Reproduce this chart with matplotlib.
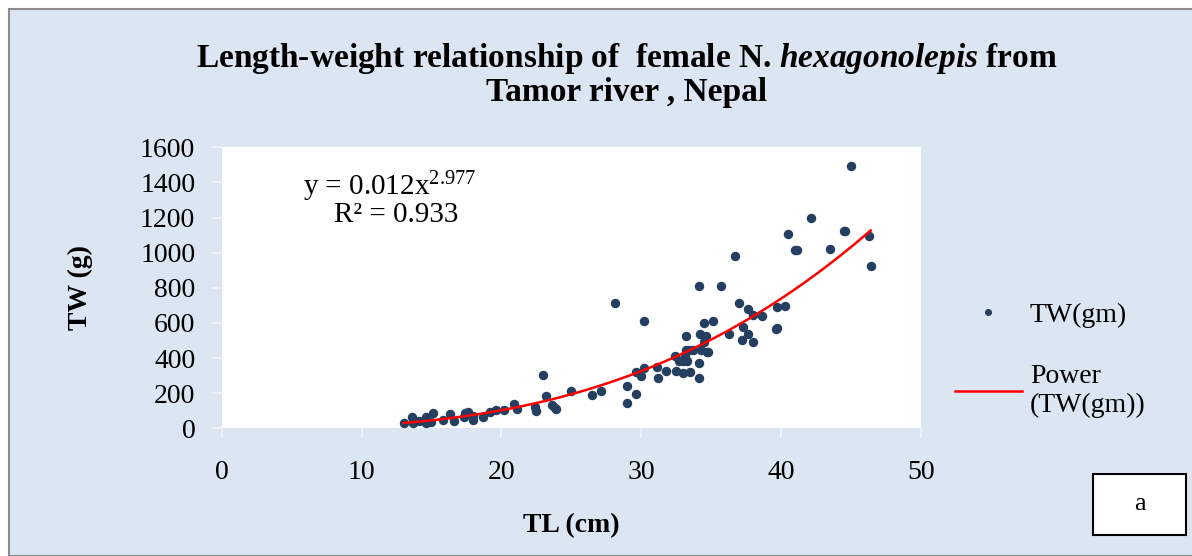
import numpy as np
import matplotlib
matplotlib.use('Agg')
import matplotlib.pyplot as plt
from matplotlib.patches import Rectangle

plt.rcParams['font.family'] = ['Liberation Serif', 'DejaVu Serif']
plt.rcParams['mathtext.fontset'] = 'custom'
plt.rcParams['mathtext.rm'] = 'Liberation Serif'
plt.rcParams['mathtext.it'] = 'Liberation Serif:italic:bold'
plt.rcParams['mathtext.bf'] = 'Liberation Serif:bold'

# total length (cm) and total weight (g)
tl = [13.0, 13.6, 13.7, 14.1, 14.6, 14.6, 15.0, 15.1, 15.8, 16.3,
      16.6, 17.3, 17.4, 17.6, 18.0, 18.0, 18.7, 19.2, 19.6, 20.2,
      20.9, 21.1, 22.4, 22.5, 22.95, 23.2, 23.6, 23.8, 23.9, 25.0,
      26.5, 27.1, 28.1, 29.0, 29.0, 29.6, 29.6, 30.0, 30.2, 30.2,
      31.1, 31.2, 31.8, 32.4, 32.5, 32.7, 33.0, 33.0, 33.1, 33.2,
      33.2, 33.3, 33.4, 33.5, 33.7, 34.1, 34.1, 34.1, 34.2, 34.3,
      34.5, 34.5, 34.6, 34.7, 34.8, 35.1, 35.7, 36.3, 36.7, 37.0,
      37.2, 37.3, 37.6, 37.6, 38.0, 38.0, 38.6, 39.6, 39.7, 39.7,
      40.3, 40.5, 41.0, 41.1, 42.1, 43.5, 44.5, 44.6, 45.0, 46.3,
      46.4]
tw = [28, 63, 28, 43, 66, 28, 38, 89, 47, 81,
      43, 66, 85, 95, 47, 70, 66, 95, 104, 104,
      137, 112, 121, 100, 305, 182, 133, 114, 110, 210,
      188, 210, 713, 242, 146, 195, 320, 299, 343, 609,
      347, 286, 328, 413, 328, 383, 383, 315, 413, 445,
      525, 383, 445, 322, 445, 370, 286, 811, 538, 445,
      489, 601, 525, 432, 436, 609, 811, 538, 979, 713,
      502, 578, 677, 538, 643, 489, 637, 567, 572, 692,
      696, 1104, 1013, 1013, 1195, 1020, 1124, 1124, 1495, 1096,
      923]

x_ticks = [0, 10, 20, 30, 40, 50]
y_ticks = [0, 200, 400, 600, 800, 1000, 1200, 1400, 1600]

bg = '#dce6f2'
fig = plt.figure(figsize=(11.92, 5.56), dpi=100, facecolor='white')
# chart area frame
fig.patches.append(Rectangle((9 / 1192, 0), 1.0, 1 - 9 / 556, transform=fig.transFigure,
                             facecolor=bg, edgecolor='#8c8c8c', linewidth=1.5, zorder=-5))

ax = fig.add_axes([221.7 / 1192, (556 - 428.3) / 556, (921 - 221.7) / 1192, (428.3 - 147.3) / 556])
ax.set_facecolor('white')

# power trendline fitted on the data (like Excel's power trendline)
b, log_a = np.polyfit(np.log(tl), np.log(tw), 1)
xs = np.linspace(min(tl), max(tl), 200)
ys = np.exp(log_a) * xs ** b

ax.plot(tl, tw, 'o', color='#243f60', markersize=5.8, label='TW(gm)', zorder=3)
ax.plot(xs, ys, color='#ff0000', linewidth=1.8, label='Power\n(TW(gm))', zorder=4)

ax.set_xlim(0, 50)
ax.set_ylim(0, 1600)
ax.set_xticks(x_ticks)
ax.set_yticks(y_ticks)
for s in ax.spines.values():
    s.set_visible(False)
ax.tick_params(length=7, width=1.2, color='#f2f5fa', labelsize=20)
ax.tick_params(axis='y', pad=12)
ax.tick_params(axis='x', pad=16)

ax.set_xlabel('TL (cm)', fontsize=20, fontweight='bold', labelpad=20)
ax.set_ylabel('TW (g)', fontsize=20, fontweight='bold', labelpad=34)

ax.text(0.24, 0.86, 'y = 0.012x$^{2.977}$', transform=ax.transAxes,
        ha='center', va='center', fontsize=21)
ax.text(0.25, 0.76, 'R² = 0.933', transform=ax.transAxes,
        ha='center', va='center', fontsize=21)

fig.text(0.526, 0.895, 'Length-weight relationship of  female N. $\\mathit{hexagonolepis}$ from',
         ha='center', va='center', fontsize=24, fontweight='bold')
fig.text(0.526, 0.834, 'Tamor river , Nepal', ha='center', va='center',
         fontsize=24, fontweight='bold')

fig.legend(loc='center left', bbox_to_anchor=(930 / 1192, 1 - 360 / 556), frameon=False,
           fontsize=20, handlelength=2.4, handletextpad=0.3, labelspacing=1.3,
           markerscale=0.7)

fig.patches.append(Rectangle((1093 / 1192, 1 - 535 / 556), 93 / 1192, 61 / 556,
                             transform=fig.transFigure, facecolor='white',
                             edgecolor='black', linewidth=1.5, zorder=2))
fig.text(1139.5 / 1192, 1 - 504 / 556, 'a', ha='center', va='center', fontsize=19, zorder=3)

fig.savefig('out.png', dpi=100, facecolor=fig.get_facecolor())
